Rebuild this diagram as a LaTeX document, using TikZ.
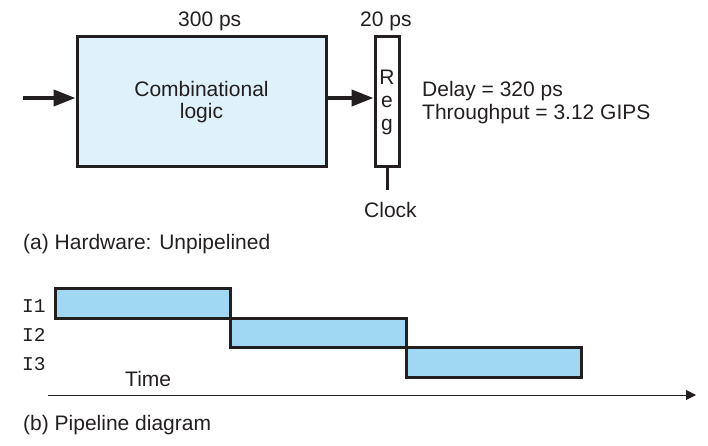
\documentclass[tikz,border=0pt]{standalone}
\usepackage{fontspec}
\setmainfont{Liberation Sans}
\setmonofont{Liberation Mono}
\usetikzlibrary{arrows.meta}

\definecolor{ink}{HTML}{231F20}
\definecolor{logicfill}{HTML}{DFF1FA}
\definecolor{stagefill}{HTML}{A0D8F4}

\tikzset{
  txt/.style={font=\fontsize{21}{22}\selectfont, text=ink, inner sep=0pt},
  mono/.style={font=\fontsize{19.5}{22}\ttfamily, text=ink, inner sep=0pt},
  hwbox/.style={draw=ink, line width=3pt, inner sep=0pt},
  stage/.style={draw=ink, fill=stagefill, line width=3pt, inner sep=0pt,
    minimum width=175.5pt, minimum height=29.5pt},
  bus/.style={draw=ink, line width=4pt, -{Triangle[length=22pt,width=16pt]}},
}

\begin{document}
\begin{tikzpicture}[x=1pt,y=-1pt]

\useasboundingbox (0,0) rectangle (708,446);

% (a) unpipelined hardware
\node[hwbox, fill=logicfill, minimum width=249pt, minimum height=130pt,
  txt, align=center] (comb) at (201.5,102) {Combinational\\logic};
\node[hwbox, fill=white, minimum width=24pt, minimum height=130pt,
  txt, align=center, font=\fontsize{21}{23}\selectfont] (reg) at (387,102) {R\\e\\g};

\coordinate (in) at (23,98);
\coordinate (clk) at (387,190);

\draw[bus] (in) -- (in -| comb.west);
\draw[bus] (in -| comb.east) -- (in -| reg.west);
\draw[ink, line width=3pt] (reg.south) -- (clk);

\node[txt, anchor=base west] (t300) at (178,27) {300 ps};
\node[txt, anchor=base west] (t20) at (360,27) {20 ps};
\node[txt, anchor=base west] (clock) at (364,217) {Clock};
\node[txt, anchor=base west] (delay) at (422,97) {Delay = 320 ps};
\node[txt, anchor=base west] (thru) at (422,120) {Throughput = 3.12 GIPS};
\node[txt, anchor=base west] (capa) at (23,249) {(a) Hardware: Unpipelined};

% (b) pipeline diagram
\foreach \i in {1,2,3} {
  \node[stage] (s\i) at ({143+175.5*(\i-1)},{303.5+29.5*(\i-1)}) {};
  \node[mono, anchor=base west] (lab\i) at (22,{312+29*(\i-1)}) {I\i};
}

\coordinate (ax0) at (48,395);
\coordinate (ax1) at (696,395);
\draw[ink, line width=1pt, -{Triangle[length=10pt,width=10pt]}] (ax0) -- (ax1);

\node[txt, anchor=base west] (time) at (125,386) {Time};
\node[txt, anchor=base west] (capb) at (23,430) {(b) Pipeline diagram};

\end{tikzpicture}
\end{document}
